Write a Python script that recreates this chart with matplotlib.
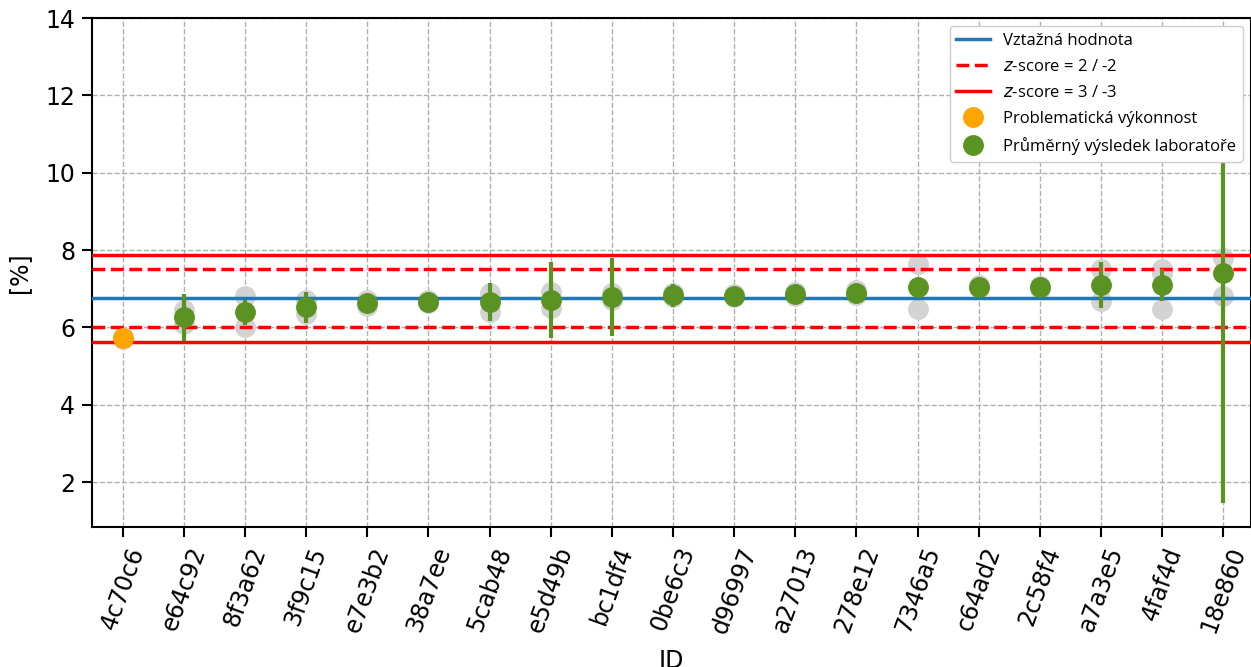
import numpy as np
import matplotlib
matplotlib.use("Agg")
import matplotlib.pyplot as plt

# lab IDs
ids = ["4c70c6", "e64c92", "8f3a62", "3f9c15", "e7e3b2", "38a7ee", "5cab48",
       "e5d49b", "bc1df4", "0be6c3", "d96997", "a27013", "278e12", "7346a5",
       "c64ad2", "2c58f4", "a7a3e5", "4faf4d", "18e860"]

# lab means and error half-widths [%]
means = [5.72, 6.26, 6.39, 6.52, 6.62, 6.66, 6.66, 6.71, 6.79, 6.83, 6.82,
         6.86, 6.90, 7.05, 7.05, 7.04, 7.10, 7.10, 7.42]
errs = [0.25, 0.60, 0.33, 0.40, 0.15, 0.05, 0.49, 0.99, 1.00, 0.30, 0.05,
        0.05, 0.05, 0.10, 0.05, 0.05, 0.59, 0.42, 5.96]

# individual replicate results
rep1 = [5.75, 6.45, 6.82, 6.72, 6.70, 6.70, 6.90, 6.92, 6.88, 6.90, 6.86,
        6.92, 6.97, 7.65, 7.10, 7.08, 7.52, 7.52, 7.80]
rep2 = [5.70, 6.10, 6.02, 6.35, 6.55, 6.62, 6.40, 6.50, 6.70, 6.78, 6.78,
        6.82, 6.83, 6.47, 7.02, 7.00, 6.68, 6.48, 6.80]
rep3 = [np.nan] * 17 + [7.40, np.nan]

# problematic labs (orange)
problem = [True] + [False] * 18

ref_value = 6.76
sigma = 0.375

green = "#5a9322"
x = np.arange(len(ids))

fig = plt.figure(figsize=(12.51, 6.67), dpi=100)
ax = fig.add_axes([0.0735, 0.2099, 0.9265, 0.7631])

for r in (rep1, rep2, rep3):
    ax.plot(x, r, "o", color="lightgrey", markersize=14, zorder=2)

ax.axhline(ref_value, color="#1f77b4", lw=2.5, zorder=3, label="Vztažná hodnota")
ax.axhline(ref_value + 2 * sigma, color="red", lw=2.5, ls="--", zorder=3,
           label=r"$z$-score = 2 / -2")
ax.axhline(ref_value - 2 * sigma, color="red", lw=2.5, ls="--", zorder=3)
ax.axhline(ref_value + 3 * sigma, color="red", lw=2.5, zorder=3,
           label=r"$z$-score = 3 / -3")
ax.axhline(ref_value - 3 * sigma, color="red", lw=2.5, zorder=3)

ax.errorbar(x, means, yerr=errs, fmt="none", ecolor=green, elinewidth=3,
            capsize=0, zorder=4)

prob = np.array(problem)
m = np.array(means)
ax.plot(x[prob], m[prob], "o", color="orange", markersize=14, zorder=5,
        label="Problematická výkonnost")
ax.plot(x[~prob], m[~prob], "o", color=green, markersize=14, zorder=5,
        label="Průměrný výsledek laboratoře")

ax.set_xlim(-0.5, 18.45)
ax.set_ylim(0.84, 14)
ax.set_xticks(x)
ax.set_xticklabels(ids, rotation=70, fontsize=17)
ax.set_yticks([2, 4, 6, 8, 10, 12, 14])
ax.tick_params(axis="y", labelsize=17)
ax.tick_params(width=1.5, length=7, pad=5)
for s in ax.spines.values():
    s.set_linewidth(1.5)
ax.grid(True, ls="--", color="#b0b0b0", lw=1)
ax.set_axisbelow(True)

ax.set_xlabel("ID", fontsize=17, labelpad=9)
ax.set_ylabel("[%]", fontsize=17, labelpad=10)

leg = ax.legend(loc="upper right", prop={"family": ["Open Sans", "DejaVu Sans"], "size": 12},
                framealpha=1, labelspacing=0.6)
leg.set_zorder(10)

fig.savefig("out.png", dpi=100)
